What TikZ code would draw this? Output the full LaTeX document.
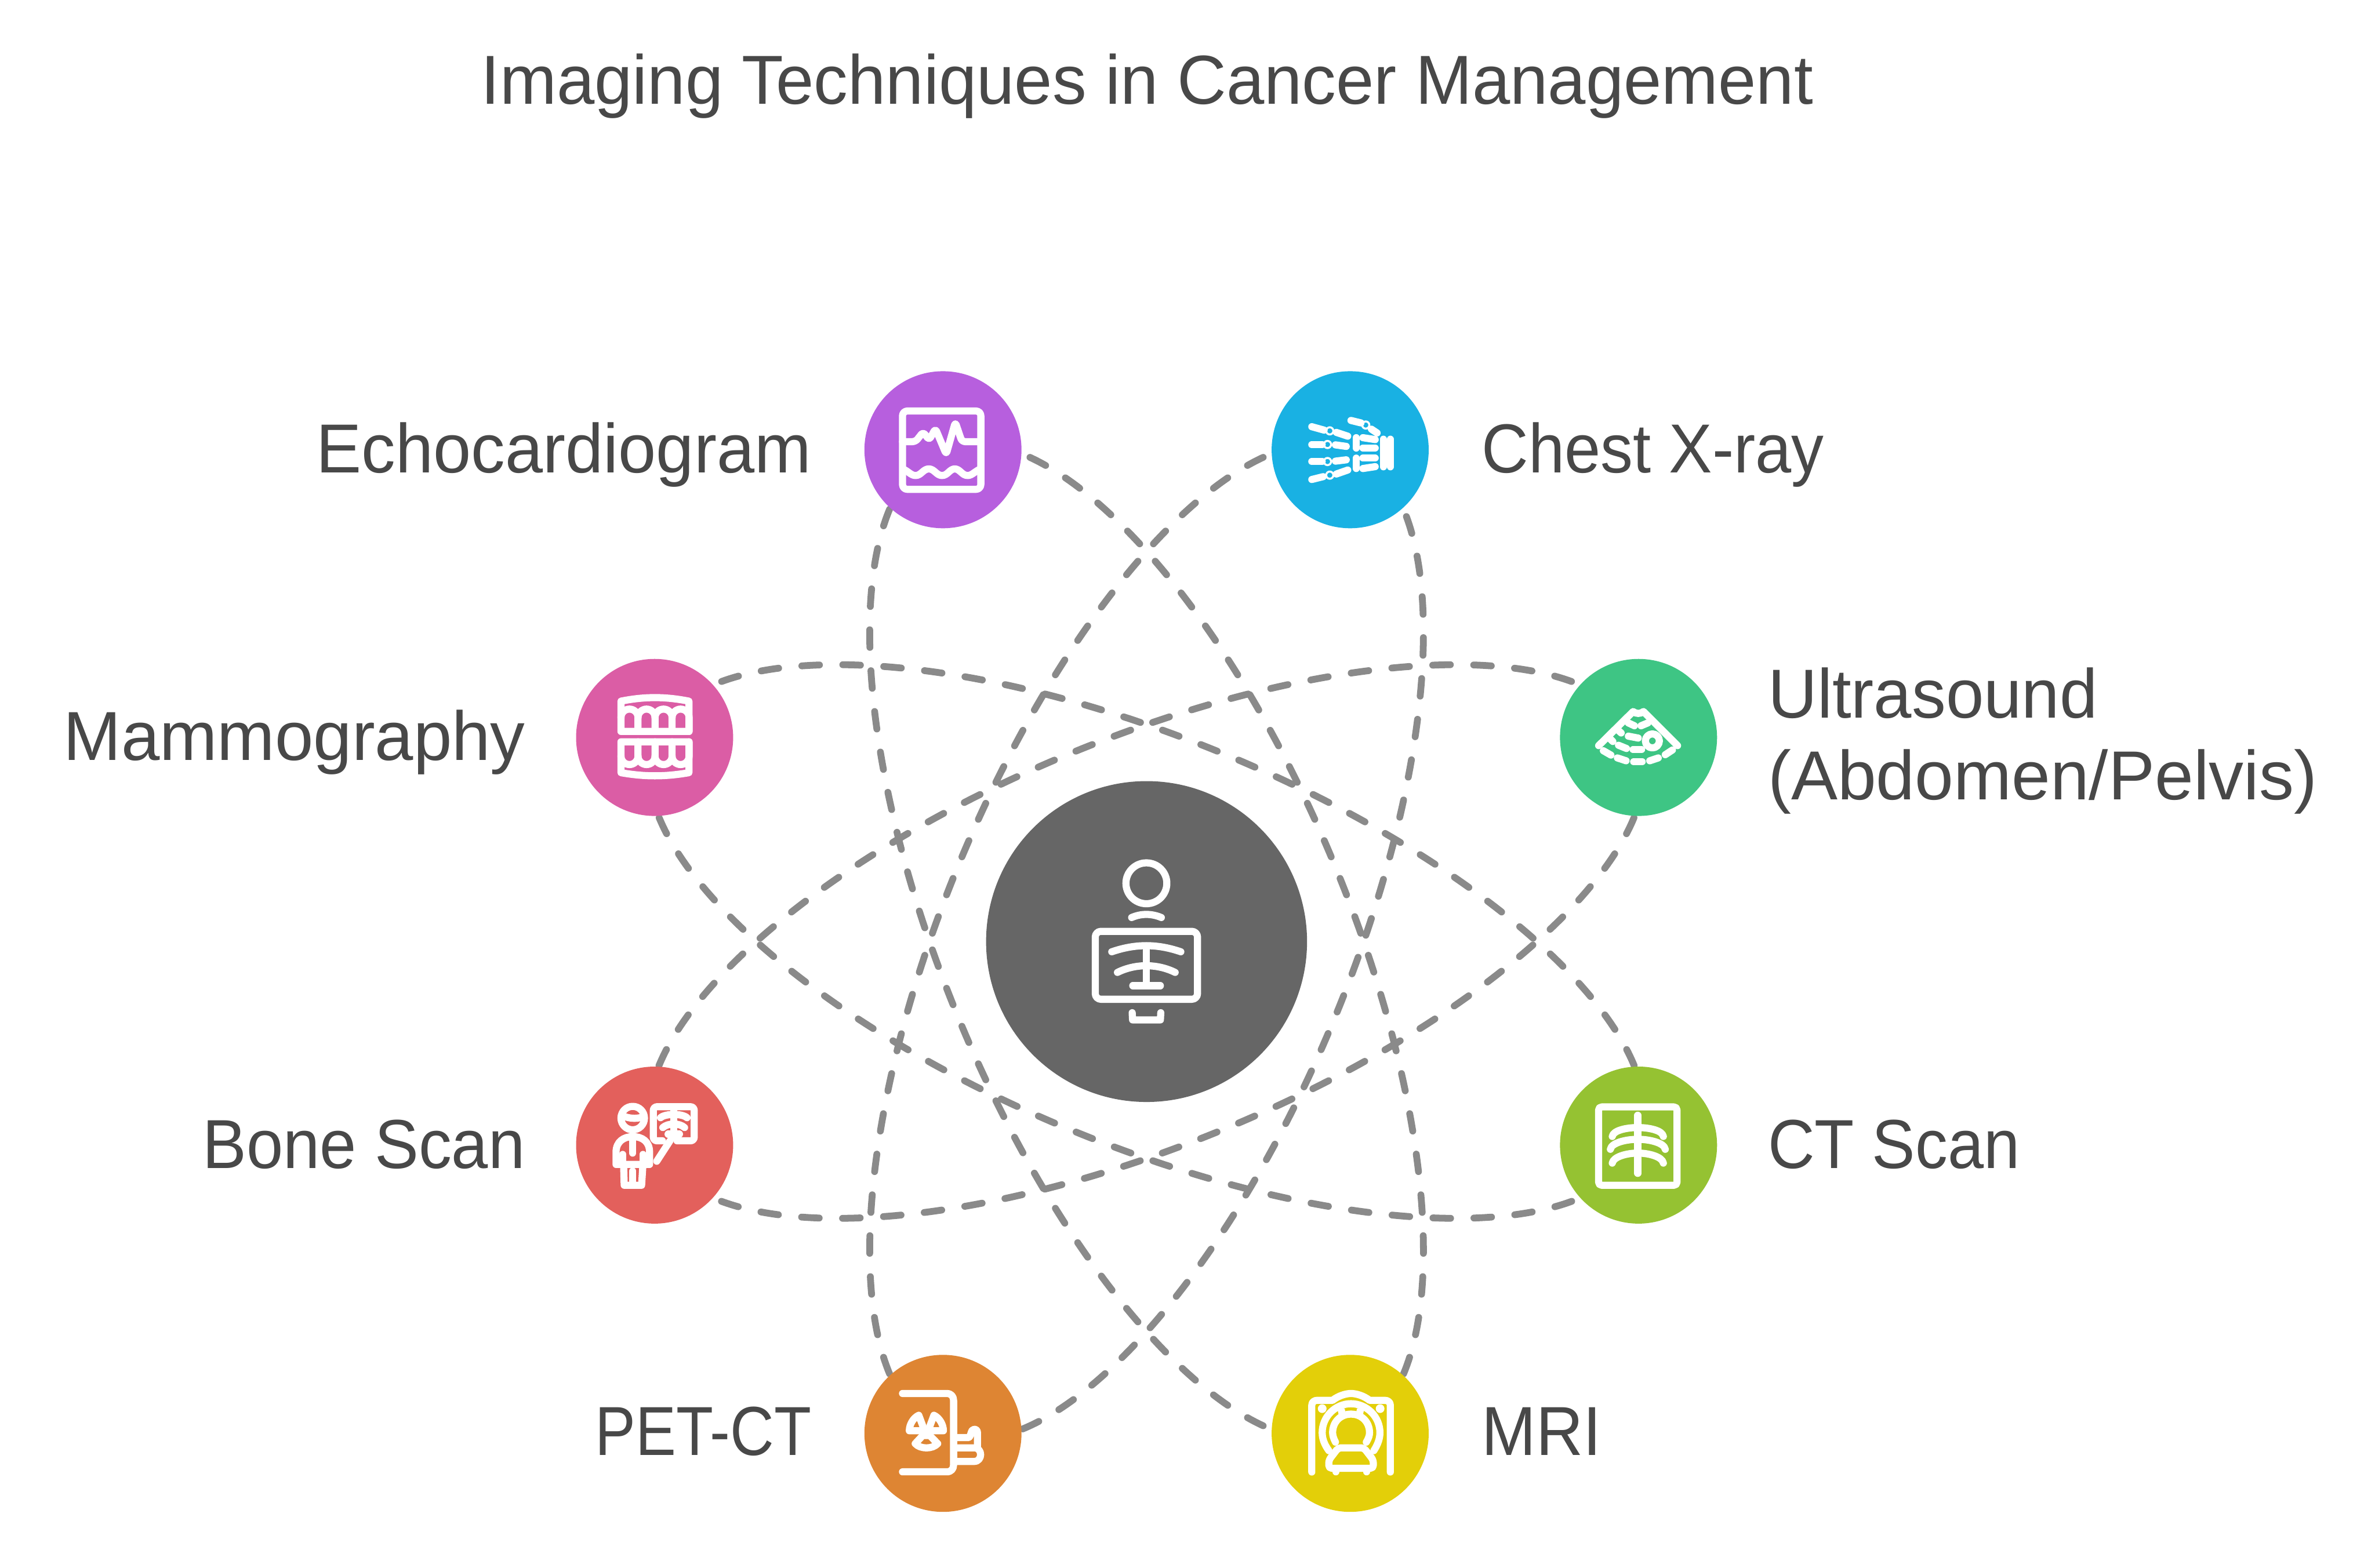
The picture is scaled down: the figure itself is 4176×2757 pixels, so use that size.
\documentclass[tikz,border=0pt]{standalone}
\usepackage{fontspec}
\setmainfont{Liberation Sans}
\newcommand\st[1]{\addfontfeature{FakeStretch=#1}}
\definecolor{txt}{HTML}{484848}
\definecolor{conn}{HTML}{8A8A8A}
\definecolor{cEcho}{HTML}{B75FDE}
\definecolor{cChest}{HTML}{19B1E3}
\definecolor{cMammo}{HTML}{DB5DA5}
\definecolor{cUltra}{HTML}{3EC584}
\definecolor{cBone}{HTML}{E3605C}
\definecolor{cCT}{HTML}{95C232}
\definecolor{cPET}{HTML}{DE8533}
\definecolor{cMRI}{HTML}{E3CF09}
\definecolor{cHub}{HTML}{666666}
\pgfdeclarelayer{back}
\pgfsetlayers{back,main}
\tikzset{
 bubble/.style={circle,inner sep=0pt,minimum size=2.76cm,fill=#1},
 lbl/.style={text=txt,inner sep=0pt,font=\fontsize{34.7}{41}\selectfont},
 orbitline/.style={draw=conn,line width=0.12cm,line cap=round,dash pattern=on 0.31cm off 0.41cm,dash phase=0.58cm},
 ico/.style={shift={(#1)},x=0.0033333cm,y=-0.0033333cm,white,line width=0.125cm,line cap=round,line join=round},
 thin ring/.style={line width=0.035cm},
}
% one half of an orbit, from node to node, in a frame turned by #1 about the hub
\newcommand\orbitarc[4]{%
 \begin{scope}[shift={(hub.center)},rotate=#1]
  \draw[orbitline] (#2.center) .. controls (-936,#4*197) and (-517,#4*357) .. (0,#4*357)
     .. controls (517,#4*357) and (936,#4*197) .. (#3.center);
 \end{scope}}
\begin{document}
\begin{tikzpicture}[x=0.01cm,y=-0.01cm]
\useasboundingbox (0,0) rectangle (4176,2757);

\node[circle,inner sep=0pt,minimum size=5.64cm,fill=cHub] (hub) at (2016,1656) {};
\node[bubble=cEcho] (echo) at (1658,791) {};
\node[bubble=cChest] (chest) at (2374,791) {};
\node[bubble=cMammo] (mammo) at (1151,1297) {};
\node[bubble=cUltra] (ultra) at (2881,1297) {};
\node[bubble=cBone] (bone) at (1151,2014) {};
\node[bubble=cCT] (ct) at (2881,2014) {};
\node[bubble=cPET] (pet) at (1658,2521) {};
\node[bubble=cMRI] (mri) at (2374,2521) {};

\begin{pgfonlayer}{back}
\fill[white] (0,0) rectangle (4176,2757);
\orbitarc{-67.5}{echo}{mri}{-1}
\orbitarc{112.5}{mri}{echo}{-1}
\orbitarc{-112.5}{chest}{pet}{-1}
\orbitarc{-112.5}{chest}{pet}{1}
\orbitarc{-22.5}{mammo}{ct}{-1}
\orbitarc{157.5}{ct}{mammo}{-1}
\orbitarc{-157.5}{ultra}{bone}{1}
\orbitarc{22.5}{bone}{ultra}{1}
\end{pgfonlayer}

\node[lbl,anchor=base] (title) at (2017,183) {\st{0.981}Imaging Techniques in Cancer Management};
\node[lbl,anchor=base east] (techo) at (1427,831) {\st{0.979}Echocardiogram};
\node[lbl,anchor=base west] (tchest) at (2605,831) {\st{0.934}Chest X-ray};
\node[lbl,anchor=base east] (tmammo) at (924,1337) {\st{0.997}Mammography};
\node[lbl,anchor=west,align=left] (tultra) at (3108,1303) {{\st{0.982}Ultrasound}\\{\st{1.003}(Abdomen/Pelvis)}};
\node[lbl,anchor=base east] (tbone) at (924,2055) {\st{0.95}Bone Scan};
\node[lbl,anchor=base west] (tct) at (3108,2055) {\st{0.933}CT Scan};
\node[lbl,anchor=base east] (tpet) at (1427,2560) {\st{0.875}PET-CT};
\node[lbl,anchor=base west] (tmri) at (2605,2560) {\st{0.94}MRI};

% Echocardiogram
\begin{scope}[ico={1500,640}]
 \draw[rounded corners=2.4pt] (261,249) rectangle (675,663);
 \draw[rounded corners=1.6pt] (261,411) -- (330,411) -- (370,360) -- (402,402) -- (435,342) -- (492,478) -- (540,308) -- (575,411) -- (675,411);
 \draw[line cap=butt] (261,555) .. controls (290,565) and (305,590) .. (330,590) .. controls (360,590) and (370,555) .. (400,555) .. controls (430,555) and (440,590) .. (470,590) .. controls (500,590) and (510,555) .. (537,555) .. controls (565,555) and (575,590) .. (605,590) .. controls (630,590) and (645,565) .. (675,555);
\end{scope}

% Chest X-ray
\begin{scope}[ico={2210,640}]
 \draw (290,332) -- (355,350); \draw (420,362) -- (480,382);
 \draw (290,427) -- (345,427); \draw (415,428) -- (472,436);
 \draw (290,516) -- (345,516); \draw (415,514) -- (472,507);
 \draw (290,611) -- (350,596); \draw (420,582) -- (480,561);
 \draw (497,299) -- (550,312); \draw (605,345) -- (635,365);
 \draw (525,390) -- (525,445); \draw (525,498) -- (525,553);
 \draw (560,390) -- (625,400); \draw (560,444) -- (625,444);
 \draw (560,498) -- (625,498); \draw (560,553) -- (625,543);
 \draw (668,398) -- (668,544); \draw (705,398) -- (705,544);
 \foreach \c in {(385,354),(373,426),(373,516),(385,588),(575,323)}
  \draw[thin ring] \c circle[radius=19];
\end{scope}

% Mammography
\begin{scope}[ico={1000,1150}]
 \draw (276,250) .. controls (400,225) and (510,225) .. (635,250) -- (635,410) -- (276,410) -- cycle;
 \foreach \s in {0,90,180,270}
  \draw[shift={(\s,0)}] (276,337) .. controls (276,312) and (296,292) .. (321,292) .. controls (346,292) and (366,312) .. (366,337) -- (366,410);
 \draw (276,465) -- (635,465) -- (635,628) .. controls (510,650) and (400,650) .. (276,628) -- cycle;
 \foreach \s in {0,90,180,270}
  \draw[shift={(\s,0)}] (276,540) .. controls (276,565) and (296,585) .. (321,585) .. controls (346,585) and (366,565) .. (366,540) -- (366,465);
\end{scope}

% Ultrasound
\begin{scope}[ico={2730,1150}]
 \draw (243,485) -- (425,305) .. controls (440,318) and (465,318) .. (480,305) -- (660,485);
 \draw (268,512) -- (308,535); \draw (342,550) -- (388,565);
 \draw (428,570) -- (473,570); \draw (513,565) -- (558,550);
 \draw (595,533) -- (633,508);
 \draw (348,483) -- (390,500); \draw (425,506) -- (470,506);
 \draw (400,435) -- (452,445);
 \draw (400,365) -- (432,380); \draw (467,380) -- (503,365);
 \draw (305,450) -- (318,463); \draw (345,403) -- (362,418);
 \draw (527,460) circle[radius=37];
\end{scope}

% Bone Scan
\begin{scope}[ico={1000,1860}]
 \draw (338,320) circle[radius=62];
 \draw (290,310) .. controls (320,322) and (355,325) .. (388,315);
 \draw (250,565) -- (250,500) .. controls (250,445) and (290,418) .. (338,418) .. controls (390,418) and (427,445) .. (427,500) -- (427,565) -- cycle;
 \draw (338,420) -- (338,505);
 \draw (285,512) -- (285,565); \draw (392,512) -- (392,565);
 \draw (290,565) -- (293,675) -- (385,675) -- (392,565);
 \draw (338,600) -- (338,675);
 \draw (465,548) -- (535,440);
 \draw[rounded corners=1.8pt] (495,440) -- (447,440) -- (447,260) -- (663,260) -- (663,440) -- (572,440);
 \draw (485,318) .. controls (510,295) and (600,295) .. (625,318);
 \draw (497,370) .. controls (525,345) and (585,345) .. (612,370);
 \draw (525,405) -- (585,405);
 \draw (555,270) -- (555,425);
\end{scope}

% CT Scan
\begin{scope}[ico={2730,1860}]
 \draw[rounded corners=1.5pt] (243,261) rectangle (657,675);
 \draw (450,305) -- (450,612);
 \draw (315,417) .. controls (320,385) and (390,370) .. (450,370) .. controls (510,370) and (580,385) .. (585,417);
 \draw (305,485) .. controls (310,450) and (390,432) .. (450,432) .. controls (510,432) and (590,450) .. (595,485);
 \draw (315,558) .. controls (320,525) and (390,505) .. (450,505) .. controls (510,505) and (580,525) .. (585,558);
\end{scope}

% PET-CT
\begin{scope}[ico={1500,2370}]
 \draw (261,243) -- (495,243) .. controls (518,243) and (531,258) .. (531,280) -- (531,620) .. controls (531,642) and (518,657) .. (495,657) -- (261,657);
 \draw (297,440) .. controls (297,405) and (320,370) .. (347,358) -- (372,425) -- (368,440) -- cycle;
 \draw (477,440) .. controls (477,405) and (454,370) .. (427,358) -- (402,425) -- (406,440) -- cycle;
 \draw (328,508) .. controls (355,538) and (420,538) .. (447,508) -- (405,465) -- (368,465) -- cycle;
 \fill (387,440) circle[radius=10];
 \draw (548,476) -- (610,476) .. controls (625,470) and (620,432) .. (640,432) .. controls (652,432) and (657,440) .. (657,450) -- (657,525);
 \draw (548,530) -- (640,530) .. controls (685,530) and (685,602) .. (640,602) -- (548,602);
\end{scope}

% MRI
\begin{scope}[ico={2210,2370}]
 \draw (290,658) -- (290,305) .. controls (290,288) and (303,279) .. (320,279) -- (400,279) .. controls (430,255) and (470,243) .. (497,243) .. controls (525,243) and (565,255) .. (595,279) -- (675,279) .. controls (692,279) and (705,288) .. (705,305) -- (705,658);
 \fill (345,323) circle[radius=23]; \fill (651,323) circle[radius=23];
 \draw (380,545) .. controls (355,510) and (345,480) .. (345,450) .. controls (345,365) and (415,297) .. (497,297) .. controls (580,297) and (650,365) .. (650,450) .. controls (650,480) and (640,510) .. (618,545);
 \draw (415,500) .. controls (405,480) and (400,465) .. (400,450) .. controls (400,395) and (440,352) .. (497,352) .. controls (555,352) and (595,395) .. (595,450) .. controls (595,465) and (590,480) .. (578,500);
 \draw[line cap=butt] (445,325) -- (450,350); \draw[line cap=butt] (548,325) -- (542,350);
 \draw[rounded corners=1.4pt] (430,530) -- (565,530) -- (615,595) -- (615,638) -- (380,638) -- (380,595) -- cycle;
 \draw (417,655) -- (417,657); \draw (579,655) -- (579,657);
\end{scope}

% Hub
\begin{scope}[ico={1820,1460}]
 \draw (588,281) circle[radius=108];
 \draw (510,462) .. controls (560,440) and (615,440) .. (667,462);
 \draw[rounded corners=2.8pt] (318,535) rectangle (858,894);
 \draw (405,643) .. controls (530,600) and (645,600) .. (770,643);
 \draw (435,752) .. controls (530,705) and (645,705) .. (740,752);
 \draw (516,822) -- (662,822);
 \draw (588,612) -- (588,822);
 \draw (513,965) -- (515,1003) -- (662,1003) -- (664,965);
\end{scope}
\end{tikzpicture}
\end{document}
